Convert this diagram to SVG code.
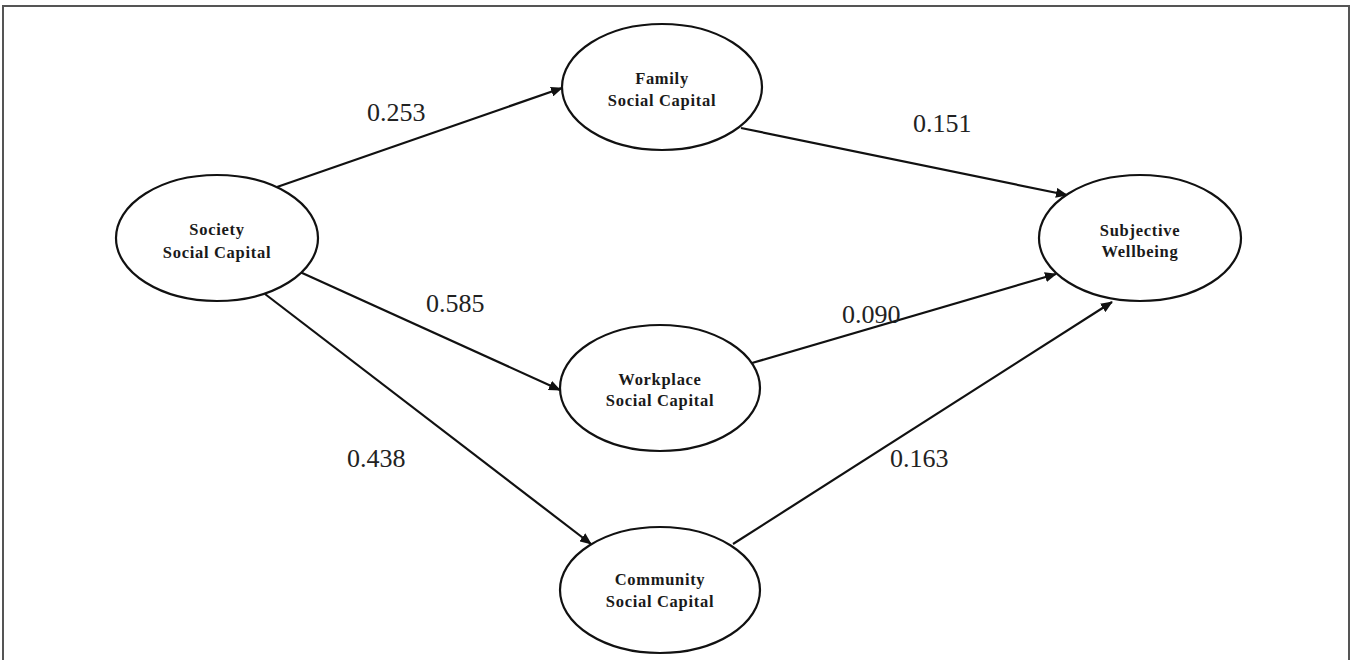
<svg xmlns="http://www.w3.org/2000/svg" width="1352" height="660" viewBox="0 0 1352 660">
<style>
.node ellipse{fill:#fff;stroke:#111;stroke-width:2.2}
.node text{font-family:"Liberation Serif","Times New Roman",serif;font-weight:bold;font-size:16.5px;letter-spacing:0.7px;fill:#1a1a1a;text-anchor:middle}
.lbl{font-family:"Liberation Serif","Times New Roman",serif;font-size:26px;fill:#222}
.edge line{stroke:#111;stroke-width:2.2;marker-end:url(#ah)}
</style>
<defs>
<marker id="ah" viewBox="0 0 12 10" refX="11" refY="5" markerWidth="12" markerHeight="10" markerUnits="userSpaceOnUse" orient="auto">
<path d="M0,0 L12,5 L0,10 z" fill="#111"/>
</marker>
</defs>
<rect width="1352" height="660" fill="#fff"/>
<path d="M3,662 V6 H1349 V662" fill="none" stroke="#555" stroke-width="2"/>
<g id="connectors" class="edge">
<line x1="277" y1="187" x2="562" y2="88"/>
<line x1="741" y1="128" x2="1067" y2="195"/>
<line x1="300" y1="272" x2="560" y2="390"/>
<line x1="752" y1="363" x2="1056" y2="274"/>
<line x1="265" y1="294" x2="591" y2="544"/>
<line x1="733" y1="544" x2="1112" y2="302"/>
</g>
<g id="labels">
<text class="lbl" x="367" y="121">0.253</text>
<text class="lbl" x="913" y="132">0.151</text>
<text class="lbl" x="426" y="312">0.585</text>
<text class="lbl" x="842" y="323">0.090</text>
<text class="lbl" x="347" y="467">0.438</text>
<text class="lbl" x="890" y="467">0.163</text>
</g>
<g id="society" class="node">
<ellipse cx="217" cy="238" rx="101" ry="63"/>
<text x="217" y="235">Society</text>
<text x="217" y="258">Social Capital</text>
</g>
<g id="family" class="node">
<ellipse cx="662" cy="87" rx="100" ry="63"/>
<text x="662" y="84">Family</text>
<text x="662" y="106">Social Capital</text>
</g>
<g id="workplace" class="node">
<ellipse cx="660" cy="388" rx="100" ry="63"/>
<text x="660" y="385">Workplace</text>
<text x="660" y="406">Social Capital</text>
</g>
<g id="community" class="node">
<ellipse cx="660" cy="590" rx="100" ry="63"/>
<text x="660" y="585">Community</text>
<text x="660" y="607">Social Capital</text>
</g>
<g id="subjective" class="node">
<ellipse cx="1140" cy="238" rx="101" ry="63"/>
<text x="1140" y="236">Subjective</text>
<text x="1140" y="257">Wellbeing</text>
</g>
</svg>
